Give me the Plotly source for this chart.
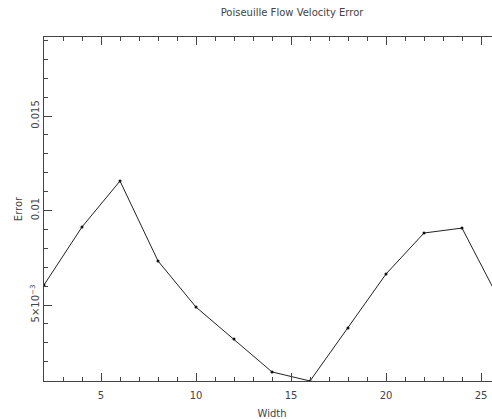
import plotly.graph_objects as go

width_vals = [2, 4, 6, 8, 10, 12, 14, 16, 18, 20, 22, 24, 26]
error_vals = [0.00606, 0.00913, 0.01156, 0.00733, 0.00489, 0.0032, 0.00146,
              0.00098, 0.00378, 0.00664, 0.00881, 0.00907, 0.0052]

y_tickvals = [0.005, 0.01, 0.015]
y_ticktext = ["5×10<sup>−3</sup>", "0.01", "0.015"]
x_tickvals = [5, 10, 15, 20, 25]
x_ticktext = ["5", "10", "15", "20", "25"]

font = dict(family="DejaVu Sans", size=10, color="#444444")

# plot area extends 8px past the 492px window, as in the reference
W, H = 500, 419

fig = go.Figure()
fig.add_trace(go.Scatter(
    x=width_vals, y=error_vals, mode="lines+markers",
    line=dict(color="#222222", width=1),
    marker=dict(color="#111111", size=3),
    cliponaxis=True, showlegend=False,
))

fig.update_layout(
    width=W, height=H,
    paper_bgcolor="white", plot_bgcolor="white",
    margin=dict(l=44, r=0, t=37, b=38, autoexpand=False),
    font=font,
    title=dict(text="Poiseuille Flow Velocity Error", x=272/W, xref="paper",
               xanchor="center", y=1 - 12/H, yanchor="middle",
               font=dict(family="DejaVu Sans", size=10, color="#444444")),
    xaxis=dict(
        range=[2, 26], showgrid=False, zeroline=False, automargin=False,
        showline=True, linecolor="#444444", linewidth=1, mirror="ticks",
        ticks="inside", ticklen=8, tickcolor="#444444", tickwidth=1,
        tickvals=x_tickvals, ticktext=x_ticktext, ticklabelstandoff=5,
        minor=dict(dtick=1, ticks="inside", ticklen=4, tickcolor="#444444"),
        title=dict(text="Width", standoff=9, font=dict(size=10)),
    ),
    yaxis=dict(
        range=[0.00098, 0.01918], showgrid=False, zeroline=False, automargin=False,
        showline=True, linecolor="#444444", linewidth=1, mirror=False,
        ticks="inside", ticklen=8, tickcolor="#444444", tickwidth=1,
        tickvals=y_tickvals, ticktext=y_ticktext, tickangle=-90,
        minor=dict(dtick=0.001, tick0=0, ticks="inside", ticklen=4, tickcolor="#444444"),
        title=dict(text="Error", standoff=4, font=dict(size=10)),
    ),
    hovermode=False,
)

fig.write_html(
    "out.html",
    config=dict(displayModeBar=False, staticPlot=True),
    post_script="document.body.style.margin='0';document.body.style.overflow='hidden';",
)
